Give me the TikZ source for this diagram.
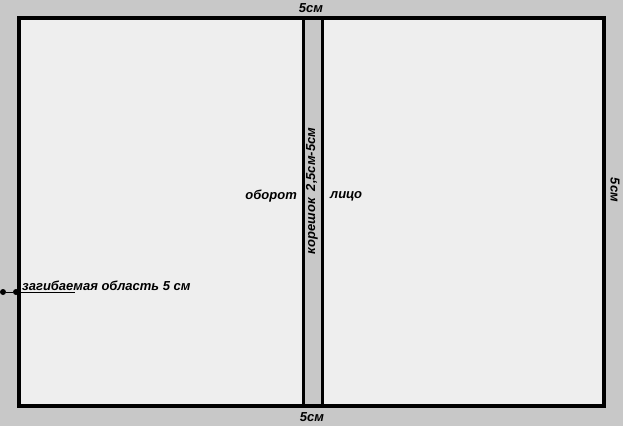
\documentclass[tikz,border=0pt]{standalone}
\usepackage{fontspec}
\setmainfont{Liberation Sans}
\begin{document}
\begin{tikzpicture}[x=1pt,y=1pt,
  lbl/.style={font=\bfseries\itshape\fontsize{13}{15}\selectfont, inner sep=0pt},
  frame/.style={draw=black, line width=4pt},
  dot/.style={circle, fill=black, inner sep=0pt, minimum size=6pt}]
\definecolor{outer}{RGB}{200,200,200}
\definecolor{inner}{RGB}{238,238,238}
\definecolor{spine}{RGB}{200,200,200}
\fill[outer] (0,0) rectangle (623,426);
\useasboundingbox (0,0) rectangle (623,426);
% sheet
\fill[inner] (19,426-18) rectangle (604,426-406);
% spine
\fill[spine] (303,426-18) rectangle (322,426-406);
\draw[line width=3pt] (303,426-18) -- (303,426-406);
\draw[line width=3pt] (322,426-18) -- (322,426-406);
\draw[frame] (19,426-18) rectangle (604,426-406);
% labels
\node[lbl] (top) at (311,426-8) {5см};
\node[lbl] (bot) at (312,426-417) {5см};
\node[lbl, rotate=-90] (right) at (615,426-190) {5см};
\node[lbl, anchor=east] (obr) at (297,426-196) {оборот};
\node[lbl, anchor=west] (lico) at (330,426-196) {лицо};
\node[lbl, rotate=90] (kor) at (312,426-191) {корешок\ \ 2,5см-5см};
% fold area
\node[dot] (d1) at (3,426-292) {};
\node[dot] (d2) at (16,426-292) {};
\coordinate (uend) at (75,426-292);
\draw[line width=1pt] (d1) -- (d2) -- (uend);
\node[lbl, anchor=base west] (fold) at (22,426-290) {загибаемая область 5 см};
\end{tikzpicture}
\end{document}
